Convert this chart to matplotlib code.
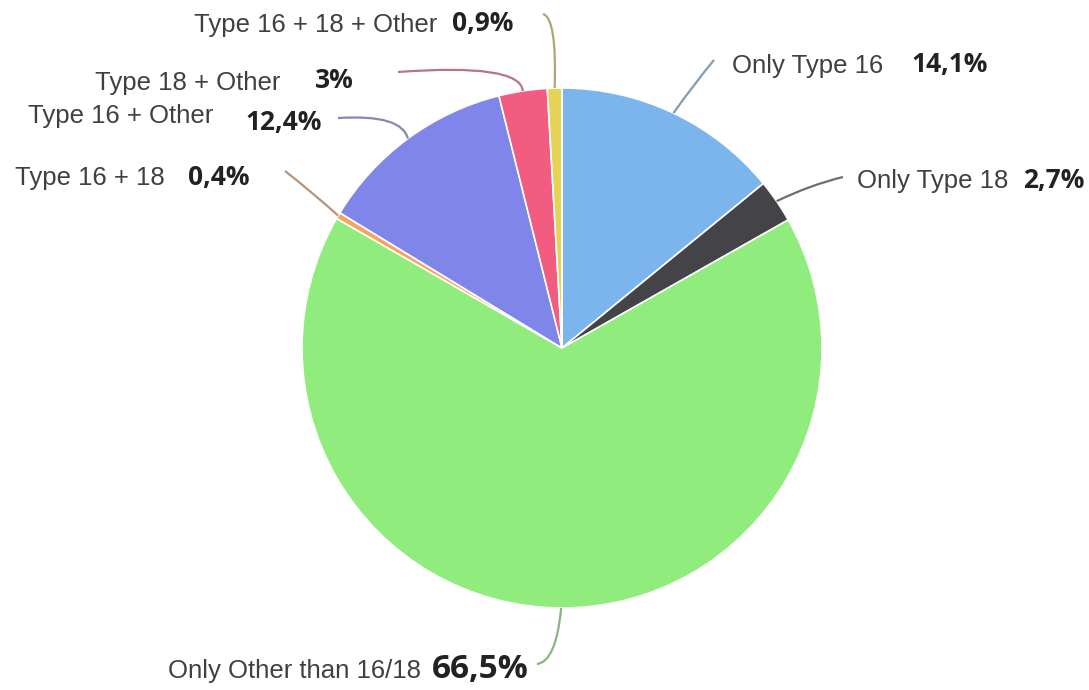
import numpy as np
import matplotlib.pyplot as plt
from matplotlib.path import Path
from matplotlib.patches import PathPatch
from matplotlib.colors import to_rgb

labels = ['Only Type 16', 'Only Type 18', 'Only Other than 16/18', 'Type 16 + 18',
          'Type 16 + Other', 'Type 18 + Other', 'Type 16 + 18 + Other']
shares = [14.1, 2.7, 66.5, 0.4, 12.4, 3.0, 0.9]
colors = ['#7cb5ec', '#434348', '#90ed7d', '#f7a35c', '#8085e9', '#f15c80', '#e4d354']

W, H = 1089, 690
CX, CY, R = 562, 348, 260


def px(x, y):
    # pixel coords (y down) -> data coords
    return x, H - y


# label layout: name (x, baseline, ha), value (x, baseline), connector start and bend
name_pos = [(732, 73, 'left'), (857, 188, 'left'), (421, 678, 'right'), (165, 185, 'right'),
            (213, 123, 'right'), (280, 90, 'right'), (437, 32, 'right')]
value_pos = [(911, 72), (1023, 188), (432, 678), (188, 185), (245, 130), (315, 88), (452, 31)]
conn = [((714, 60), (694, 84)), ((843, 177), (810, 185)), ((537, 664), (556, 662)),
        ((285, 171), (312, 192)), ((338, 118), (402, 114)), ((398, 72), (520, 63)),
        ((543, 14), (557, 18))]

fig = plt.figure(figsize=(W / 100, H / 100), dpi=100)
ax = fig.add_axes([0, 0, 1, 1])

wedges, _ = ax.pie(shares, colors=colors, startangle=90, counterclock=False,
                   radius=R, center=px(CX, CY),
                   wedgeprops=dict(edgecolor='white', linewidth=1.2))
ax.set_xlim(0, W)
ax.set_ylim(0, H)
ax.set_aspect('equal')
ax.axis('off')

for i, w in enumerate(wedges):
    mid = np.deg2rad((w.theta1 + w.theta2) / 2)
    edge = (w.center[0] + R * np.cos(mid), w.center[1] + R * np.sin(mid))
    start, bend = conn[i]
    path = Path([px(*start), px(*bend), edge], [Path.MOVETO, Path.CURVE3, Path.CURVE3])
    c = 0.4 * np.array(to_rgb(colors[i])) + 0.6 * np.array(to_rgb('#8a8a8a'))
    ax.add_patch(PathPatch(path, fill=False, edgecolor=c, lw=1.6))

    nx, ny, ha = name_pos[i]
    ax.text(*px(nx, ny), labels[i], ha=ha, va='baseline', fontsize=18.5,
            family='Liberation Sans', color='#404040')
    vx, vy = value_pos[i]
    txt = f'{shares[i]:g}'.replace('.', ',') + '%'
    ax.text(*px(vx, vy), txt, ha='left', va='baseline', fontsize=24 if shares[i] > 50 else 19,
            family='Open Sans', fontweight='bold', color='#222222')

fig.savefig('out.png', dpi=100, facecolor='white')
